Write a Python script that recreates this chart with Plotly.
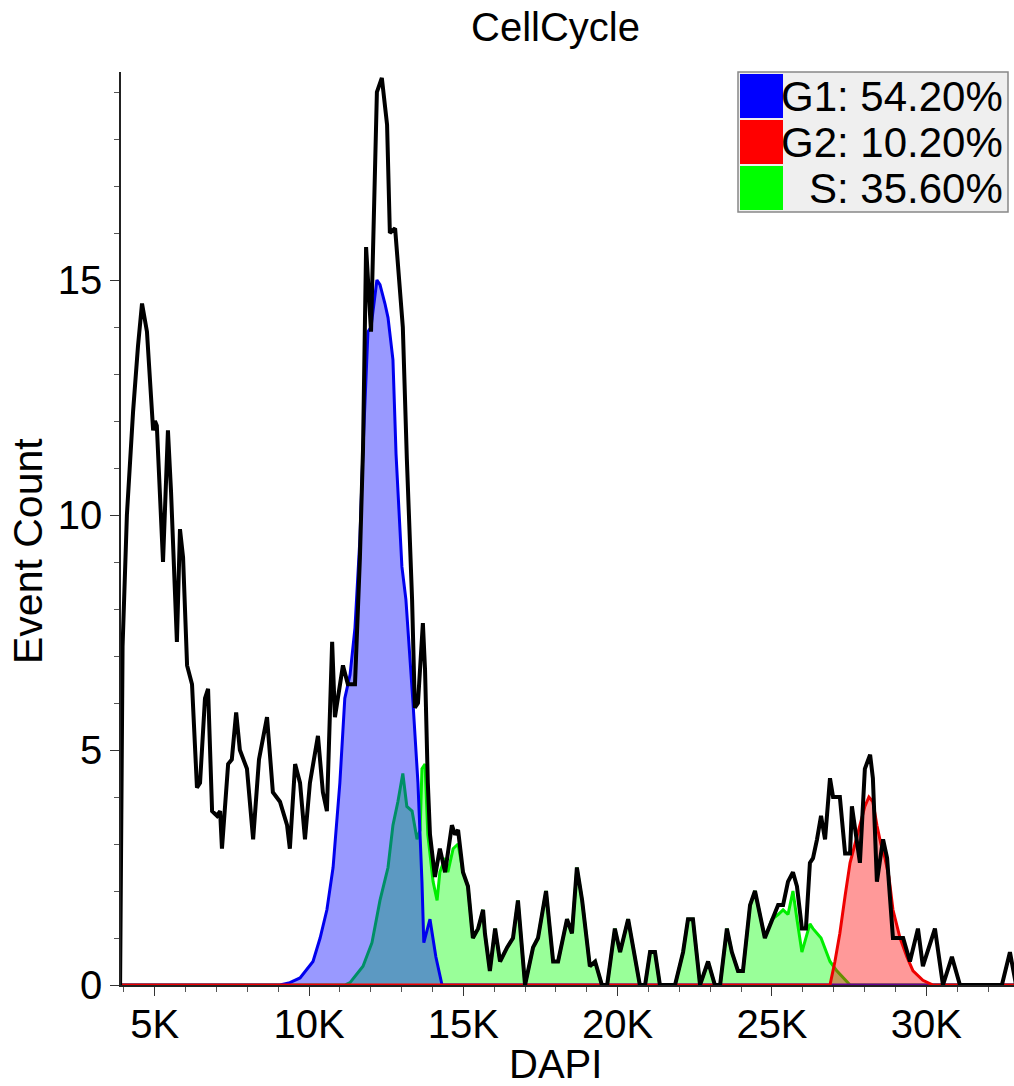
import plotly.graph_objects as go

# ---------------- data ----------------
title_text = "CellCycle"
x_title = "DAPI"
y_title = "Event Count"

x_tick_vals = [5000, 10000, 15000, 20000, 25000, 30000]
x_tick_text = ["5K", "10K", "15K", "20K", "25K", "30K"]
y_tick_vals = [0, 5, 10, 15]
y_tick_text = ["0", "5", "10", "15"]

# total histogram (black)
hist_x = [3880, 3960, 4100, 4300, 4460, 4590, 4750, 4850, 4950, 5010, 5070, 5270, 5430, 5530,
          5720, 5820, 5920, 6050, 6210, 6370, 6470, 6630, 6730, 6860, 7020, 7120, 7180, 7380,
          7500, 7640, 7760, 7990, 8190, 8380, 8640, 8830, 9060, 9290, 9380, 9550, 9710, 9870,
          10030, 10290, 10450, 10580, 10750, 10840, 10970, 11100, 11260, 11490, 11650, 11750,
          11850, 12010, 12200, 12360, 12530, 12620, 12790, 13040, 13170, 13340, 13430, 13530,
          13690, 13760, 13850, 13920, 14080, 14240, 14410, 14630, 14730, 14830, 14990, 15150,
          15310, 15480, 15640, 15700, 15860, 16030, 16190, 16420, 16610, 16770, 17000, 17260,
          17420, 17680, 17910, 18070, 18360, 18520, 18680, 18850, 19100, 19270, 19490, 19660,
          19910, 20080, 20340, 20500, 20720, 20890, 21050, 21210, 21370, 21860, 22120, 22280,
          22440, 22670, 22930, 23150, 23320, 23540, 23700, 23900, 24060, 24290, 24450, 24770,
          25000, 25200, 25360, 25520, 25680, 25810, 25970, 26100, 26230, 26330, 26460, 26590,
          26720, 26880, 26980, 27200, 27370, 27530, 27590, 27850, 28010, 28180, 28270, 28400,
          28600, 28730, 28920, 29080, 29250, 29470, 29730, 29890, 30280, 30540, 30830, 31090,
          32450, 32710, 32910]
hist_y = [0, 7.2, 10.0, 12.2, 13.6, 14.5, 13.9, 12.9, 11.8, 12.0, 11.9, 9.0, 11.8, 10.5,
          7.3, 9.7, 9.1, 6.8, 6.4, 4.2, 4.3, 6.1, 6.3, 3.7, 3.6, 3.7, 2.9, 4.7,
          4.8, 5.8, 5.0, 4.6, 3.1, 4.8, 5.7, 4.1, 3.9, 3.4, 2.9, 4.7, 4.3, 3.1,
          4.3, 5.3, 4.1, 3.7, 7.3, 5.7, 6.3, 6.8, 6.4, 6.4, 9.1, 11.4,
          15.7, 13.9, 19.0, 19.3, 18.3, 16.0, 16.1, 14.0, 11.2, 8.2, 5.9, 6.0,
          7.7, 6.7, 4.3, 3.2, 2.3, 2.9, 2.4, 3.4, 3.2, 3.3, 2.4, 2.1,
          1.0, 1.2, 1.6, 1.1, 0.3, 1.2, 0.5, 0.8, 1.0, 1.8, 0.0, 0.8,
          1.0, 2.0, 0.5, 0.5, 1.4, 1.1, 2.5, 1.8, 0.4, 0.5, 0.0, 0.0,
          1.2, 0.7, 1.4, 0.8, 0.0, 0.0, 0.7, 0.7, 0.0, 0.0, 0.7, 1.4,
          1.4, 0.0, 0.5, 0.0, 0.0, 1.2, 0.7, 0.3, 0.3, 1.7, 2.0, 1.0,
          1.4, 1.7, 1.7, 2.2, 2.4, 2.1, 1.2, 1.2, 2.6, 2.7, 3.1, 3.6,
          3.1, 4.4, 4.0, 4.0, 2.8, 2.8, 3.8, 2.6, 4.6, 4.9, 4.4, 2.2,
          3.1, 2.7, 1.0, 1.0, 1.0, 0.5, 1.2, 0.4, 1.2, 0.0, 0.6, 0.0,
          0.0, 0.7, 0.0]

# G1 model (blue)
g1_x = [3880, 9060, 9380, 9710, 10130, 10360, 10580, 10780, 11000, 11160, 11330, 11490, 11650,
        11750, 11910, 12010, 12200, 12300, 12460, 12560, 12720, 12820, 13010, 13140, 13370,
        13530, 13660, 13720, 13920, 14110, 14310, 32910]
g1_y = [0, 0, 0.05, 0.15, 0.5, 1.0, 1.6, 2.5, 4.3, 6.1, 6.6, 7.6, 9.5,
        11.4, 13.9, 14.0, 15.0, 14.9, 14.5, 14.2, 13.3, 11.3, 8.9, 8.2, 6.0,
        4.3, 2.2, 0.9, 1.4, 0.6, 0, 0]

# S model (green)
s_x = [3880, 11160, 11330, 11750, 12040, 12300, 12560, 12720, 12880, 13040, 13170, 13340, 13500,
       13600, 13660, 13760, 13850, 14020, 14150, 14240, 14410, 14500, 14670, 14830, 14990,
       15150, 15310, 15480, 15640, 15700, 15860, 16030, 16190, 16420, 16610, 16770, 17000,
       17260, 17420, 17680, 17910, 18070, 18360, 18520, 18680, 18850, 19100, 19270, 19490,
       19660, 19910, 20080, 20340, 20500, 20720, 20890, 21050, 21210, 21370, 21860, 22120,
       22280, 22440, 22670, 22930, 23150, 23320, 23540, 23700, 23900, 24060, 24290, 24450,
       24770, 25000, 25200, 25360, 25520, 25680, 25810, 25970, 26230, 26330, 26590, 26880,
       27100, 27370, 27530, 32910]
s_y = [0, 0, 0.05, 0.4, 0.9, 1.8, 2.5, 3.4, 3.9, 4.5, 3.8, 3.7, 3.1,
       3.3, 4.6, 4.7, 3.2, 2.2, 1.8, 2.4, 2.7, 2.4, 2.9, 3.0, 2.4,
       2.1, 1.0, 1.2, 1.6, 1.1, 0.3, 1.2, 0.5, 0.8, 1.0, 1.8, 0.0,
       0.8, 1.0, 2.0, 0.5, 0.5, 1.4, 1.1, 2.5, 1.8, 0.4, 0.5, 0.0,
       0.0, 1.2, 0.7, 1.4, 0.8, 0.0, 0.0, 0.7, 0.7, 0.0, 0.0, 0.7,
       1.4, 1.4, 0.0, 0.5, 0.0, 0.0, 1.2, 0.7, 0.3, 0.3, 1.7, 2.0,
       1.0, 1.4, 1.5, 1.6, 1.5, 2.0, 1.4, 0.7, 1.3, 1.2, 1.0, 0.5,
       0.3, 0.1, 0, 0]

# G2 model (red)
g2_x = [3880, 26880, 27040, 27200, 27370, 27530, 27690, 27850, 28010, 28140, 28270, 28400, 28530,
        28660, 28790, 28920, 29150, 29370, 29570, 29890, 30220, 32910]
g2_y = [0, 0, 0.5, 1.1, 1.9, 2.6, 3.0, 3.4, 3.8, 4.0, 3.9, 3.4, 3.0,
        2.7, 2.3, 1.6, 1.0, 0.6, 0.3, 0.1, 0, 0]

legend_names = ["G1", "G2", "S"]
legend_pcts = [54.20, 10.20, 35.60]

# ---------------- layout constants ----------------
W, H = 1014, 1086
ML, MR, MT, MB = 121, 0, 72, 101
PW, PH = W - ML - MR, H - MT - MB
X_RANGE = [3909, 32842]
Y_RANGE = [0, PH / 47.0]
FONT = "Liberation Sans, Arial, sans-serif"


def px(xp):
    """figure pixel x -> paper x"""
    return (xp - ML) / PW


def py(yp):
    """figure pixel y -> paper y"""
    return (H - MB - yp) / PH


fig = go.Figure()

fig.add_trace(go.Scatter(x=s_x, y=s_y, mode="lines", fill="tozeroy",
                         fillcolor="rgba(0,255,0,0.4)",
                         line=dict(color="#00ee00", width=3), hoverinfo="skip"))
fig.add_trace(go.Scatter(x=g1_x, y=g1_y, mode="lines", fill="tozeroy",
                         fillcolor="rgba(0,0,255,0.4)",
                         line=dict(color="#0000ee", width=3), hoverinfo="skip"))
fig.add_trace(go.Scatter(x=g2_x, y=g2_y, mode="lines", fill="tozeroy",
                         fillcolor="rgba(255,0,0,0.4)",
                         line=dict(color="#ee0000", width=3), hoverinfo="skip"))
fig.add_trace(go.Scatter(x=hist_x, y=hist_y, mode="lines",
                         line=dict(color="black", width=4), hoverinfo="skip"))

fig.update_layout(
    width=W, height=H,
    margin=dict(l=ML, r=MR, t=MT, b=MB, pad=0),
    paper_bgcolor="white", plot_bgcolor="white",
    showlegend=False,
    font=dict(family=FONT, color="black"),
)

fig.update_xaxes(
    range=X_RANGE, showgrid=False, zeroline=False,
    showline=True, linecolor="#222", linewidth=1.5,
    tickmode="array", tickvals=x_tick_vals, ticktext=x_tick_text,
    ticks="outside", ticklen=9, tickwidth=1.2, tickcolor="#333",
    ticklabelstandoff=-6,
    tickfont=dict(size=40, family=FONT, color="black"),
    minor=dict(tickmode="linear", tick0=0, dtick=1000, ticks="outside",
               ticklen=5, tickwidth=1, tickcolor="#555"),
)
fig.update_yaxes(
    range=Y_RANGE, showgrid=False, zeroline=False,
    showline=True, linecolor="#222", linewidth=1.5,
    tickmode="array", tickvals=y_tick_vals, ticktext=y_tick_text,
    ticks="outside", ticklen=9, tickwidth=1.2, tickcolor="#333",
    tickfont=dict(size=40, family=FONT, color="black"),
    minor=dict(tickmode="linear", tick0=0, dtick=1, ticks="outside",
               ticklen=5, tickwidth=1, tickcolor="#555"),
)

annotations = [
    dict(text=title_text, x=px(555), y=py(27), xref="paper", yref="paper",
         xanchor="center", yanchor="middle", showarrow=False,
         font=dict(size=40, family=FONT, color="black")),
    dict(text=x_title, x=px(555), y=py(1064), xref="paper", yref="paper",
         xanchor="center", yanchor="middle", showarrow=False,
         font=dict(size=40, family=FONT, color="black")),
    dict(text=y_title, x=px(28), y=py(551), xref="paper", yref="paper",
         xanchor="center", yanchor="middle", showarrow=False, textangle=-90,
         font=dict(size=41, family=FONT, color="black")),
]

# custom legend box
shapes = [dict(type="rect", xref="paper", yref="paper",
               x0=px(738), x1=px(1008), y0=py(212), y1=py(72),
               fillcolor="#efefef", line=dict(color="#888", width=1.5), layer="above")]
legend_colors = ["#0000ff", "#ff0000", "#00ff00"]
row_top = [74, 120, 166]
for name, pct, col, top in zip(legend_names, legend_pcts, legend_colors, row_top):
    shapes.append(dict(type="rect", xref="paper", yref="paper",
                       x0=px(740), x1=px(783), y0=py(top + 44), y1=py(top),
                       fillcolor=col, line=dict(width=0), layer="above"))
    annotations.append(dict(text=f"{name}: {pct:.2f}%", x=px(1005), y=py(top + 23),
                            xref="paper", yref="paper", xanchor="right", yanchor="middle",
                            showarrow=False, font=dict(size=42, family=FONT, color="black")))

fig.update_layout(shapes=shapes, annotations=annotations)

# remove the browser's default 8px body margin so the figure fills the window
fig.write_html("out.html",
               config={"displayModeBar": False},
               post_script="document.body.style.margin='0';document.body.style.padding='0';")
